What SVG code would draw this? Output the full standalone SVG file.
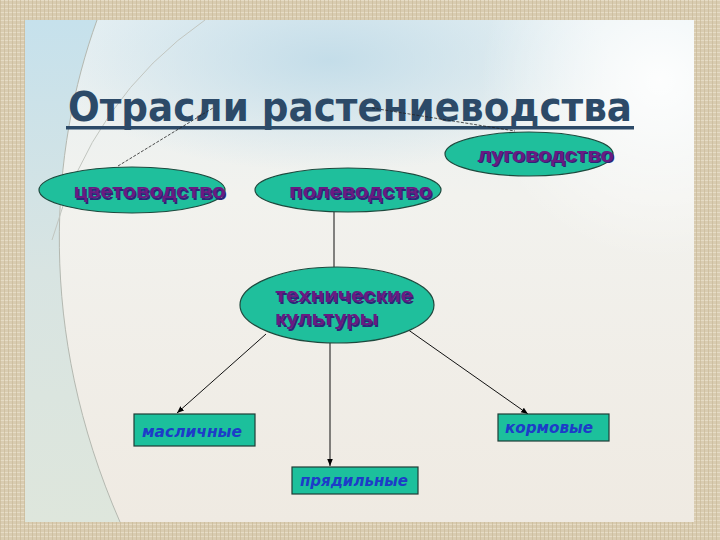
<svg xmlns="http://www.w3.org/2000/svg" width="720" height="540" viewBox="0 0 720 540">
<defs>
  <pattern id="linen" width="4" height="4" patternUnits="userSpaceOnUse">
    <rect width="4" height="4" fill="#d9ccb1"/>
    <rect x="0" y="0" width="4" height="1" fill="#e6dcc6"/>
    <rect x="0" y="0" width="1" height="4" fill="#c9b999" opacity="0.7"/>
  </pattern>
  <linearGradient id="slideBase" x1="0" y1="0" x2="0" y2="1">
    <stop offset="0" stop-color="#e6f0f3"/>
    <stop offset="0.35" stop-color="#f2f2ee"/>
    <stop offset="1" stop-color="#efeae2"/>
  </linearGradient>
  <radialGradient id="blueWash" cx="330" cy="60" r="280" gradientUnits="userSpaceOnUse" gradientTransform="translate(330 60) scale(1 0.4) translate(-330 -60)">
    <stop offset="0" stop-color="#c0dbe8" stop-opacity="0.9"/>
    <stop offset="1" stop-color="#c0dbe8" stop-opacity="0"/>
  </radialGradient>
  <radialGradient id="whiteGlow" cx="660" cy="80" r="180" gradientUnits="userSpaceOnUse">
    <stop offset="0" stop-color="#ffffff" stop-opacity="0.9"/>
    <stop offset="1" stop-color="#ffffff" stop-opacity="0"/>
  </radialGradient>
  <linearGradient id="leftStrip" x1="0" y1="0" x2="0" y2="1">
    <stop offset="0" stop-color="#c6e1ec"/>
    <stop offset="0.5" stop-color="#d8e4e2"/>
    <stop offset="1" stop-color="#dee6dc"/>
  </linearGradient>
  <marker id="arr" viewBox="0 0 10 10" refX="10" refY="5" markerWidth="7" markerHeight="7" orient="auto-start-reverse">
    <path d="M0 1 L10 5 L0 9 Z" fill="#000"/>
  </marker>
  <style>
    .oval { fill: #1fbf9c; stroke: #1d4a3e; stroke-width: 1.2; }
    .box { fill: #1cc09c; stroke: #1f3c36; stroke-width: 1.2; }
    .otxt { font-family: "Liberation Sans", Arial, sans-serif; font-weight: bold; font-size: 21px; fill: #6a1a82; }
    .oshadow { font-family: "Liberation Sans", Arial, sans-serif; font-weight: bold; font-size: 21px; fill: #2a2678; }
    .btxt { font-family: "DejaVu Sans", "Liberation Sans", sans-serif; font-style: italic; font-weight: bold; font-size: 16px; fill: #1d3cc8; }
    .conn { stroke: #111; stroke-width: 1; fill: none; }
    .thin { stroke: #222; stroke-width: 0.8; fill: none; stroke-dasharray: 3 1.5; }
    .title { font-family: "DejaVu Sans", "Liberation Sans", sans-serif; font-weight: bold; font-size: 40px; fill: #2c4a68; }
  </style>
</defs>

<!-- background -->
<rect x="0" y="0" width="720" height="540" fill="url(#linen)"/>
<rect x="25" y="20" width="669" height="502" fill="url(#slideBase)"/>
<rect x="25" y="20" width="669" height="502" fill="url(#blueWash)"/>
<rect x="25" y="20" width="669" height="502" fill="url(#whiteGlow)"/>
<path d="M25 20 L97 20 C50 150 36 330 120 522 L25 522 Z" fill="url(#leftStrip)"/>
<path d="M97 20 C50 150 36 330 120 522" fill="none" stroke="#b4b8b0" stroke-width="1"/>
<path d="M205 20 Q92 98 52 240" fill="none" stroke="#c2c6c0" stroke-width="1"/>

<!-- title -->
<g id="title">
  <text class="title" x="68" y="121" textLength="564" lengthAdjust="spacingAndGlyphs">Отрасли растениеводства</text>
  <rect x="66" y="126" width="568" height="3.5" fill="#2c4a68"/>
</g>

<!-- connectors -->
<g id="connectors">
  <line class="thin" x1="118" y1="166" x2="213" y2="108"/>
  <line class="thin" x1="372" y1="108" x2="515" y2="131"/>
  <line class="conn" x1="334" y1="212" x2="334" y2="267"/>
  <line class="conn" x1="266" y1="334" x2="177" y2="413" marker-end="url(#arr)"/>
  <line class="conn" x1="330" y1="343" x2="330" y2="466" marker-end="url(#arr)"/>
  <line class="conn" x1="407" y1="329" x2="528" y2="414" marker-end="url(#arr)"/>
</g>

<g id="lugovodstvo">
  <ellipse class="oval" cx="529" cy="154" rx="84" ry="22"/>
  <text class="oshadow" x="479" y="163" textLength="136" lengthAdjust="spacingAndGlyphs">луговодство</text>
  <text class="otxt" x="477.5" y="161.5" textLength="136" lengthAdjust="spacingAndGlyphs">луговодство</text>
</g>

<g id="tsvetovodstvo">
  <ellipse class="oval" cx="132" cy="190" rx="93" ry="23"/>
  <text class="oshadow" x="75" y="199.5" textLength="152" lengthAdjust="spacingAndGlyphs">цветоводство</text>
  <text class="otxt" x="73.5" y="198" textLength="152" lengthAdjust="spacingAndGlyphs">цветоводство</text>
</g>

<g id="polevodstvo">
  <ellipse class="oval" cx="348" cy="190" rx="93" ry="22"/>
  <text class="oshadow" x="290.5" y="199.5" textLength="143" lengthAdjust="spacingAndGlyphs">полеводство</text>
  <text class="otxt" x="289" y="198" textLength="143" lengthAdjust="spacingAndGlyphs">полеводство</text>
</g>

<g id="tekhnicheskie">
  <ellipse class="oval" cx="337" cy="305" rx="97" ry="38"/>
  <text class="oshadow" x="276.5" y="303.5" textLength="138" lengthAdjust="spacingAndGlyphs">технические</text>
  <text class="otxt" x="275" y="302" textLength="138" lengthAdjust="spacingAndGlyphs">технические</text>
  <text class="oshadow" x="276.5" y="326.5" textLength="103" lengthAdjust="spacingAndGlyphs">культуры</text>
  <text class="otxt" x="275" y="325" textLength="103" lengthAdjust="spacingAndGlyphs">культуры</text>
</g>

<g id="maslichnye">
  <rect class="box" x="134" y="414" width="121" height="32"/>
  <text class="btxt" x="142" y="437" textLength="100" lengthAdjust="spacingAndGlyphs">масличные</text>
</g>

<g id="kormovye">
  <rect class="box" x="498" y="414" width="111" height="27"/>
  <text class="btxt" x="505" y="433" textLength="88" lengthAdjust="spacingAndGlyphs">кормовые</text>
</g>

<g id="pryadilnye">
  <rect class="box" x="292" y="467" width="126" height="27"/>
  <text class="btxt" x="300" y="486" textLength="108" lengthAdjust="spacingAndGlyphs">прядильные</text>
</g>
</svg>
